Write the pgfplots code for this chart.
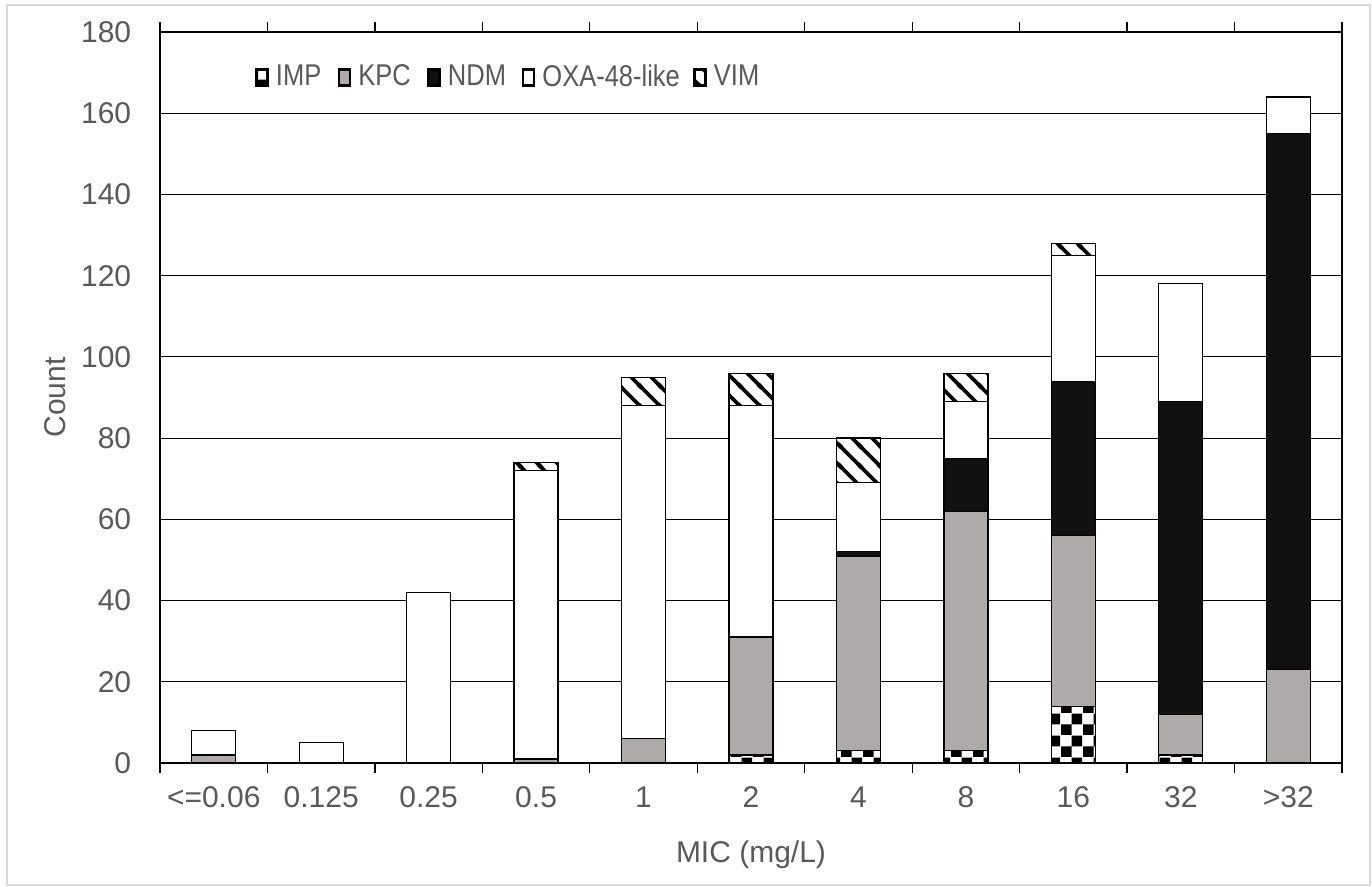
\documentclass[border=0pt]{standalone}
\usepackage{fontspec}
\setmainfont{Liberation Sans}
\newfontfamily\legfont[FakeStretch=0.85]{Liberation Sans}
\usepackage{pgfplots}
\usepackage{pgfplotstable}
\pgfplotsset{compat=1.18}
\usetikzlibrary{patterns}
\definecolor{txtgray}{HTML}{595959}
\definecolor{kpcgray}{HTML}{AEAAAA}
\definecolor{ndmblack}{HTML}{111111}
\definecolor{framegray}{HTML}{D9D9D9}

% checkerboard for IMP
\pgfdeclarepatternformonly{impchecker}{\pgfpointorigin}{\pgfqpoint{8.6pt}{8.6pt}}{\pgfqpoint{8.6pt}{8.6pt}}{%
  \pgfpathrectangle{\pgfpointorigin}{\pgfqpoint{4.3pt}{4.3pt}}%
  \pgfpathrectangle{\pgfqpoint{4.3pt}{4.3pt}}{\pgfqpoint{4.3pt}{4.3pt}}%
  \pgfusepath{fill}}
% wide downward diagonal for VIM
\pgfdeclarepatternformonly{vimlines}{\pgfqpoint{-1pt}{-1pt}}{\pgfqpoint{9pt}{9pt}}{\pgfqpoint{8pt}{8pt}}{%
  \pgfsetlinewidth{1.5pt}%
  \pgfpathmoveto{\pgfqpoint{-1pt}{9pt}}\pgfpathlineto{\pgfqpoint{9pt}{-1pt}}%
  \pgfpathmoveto{\pgfqpoint{-1pt}{1pt}}\pgfpathlineto{\pgfqpoint{1pt}{-1pt}}%
  \pgfpathmoveto{\pgfqpoint{7pt}{9pt}}\pgfpathlineto{\pgfqpoint{9pt}{7pt}}%
  \pgfusepath{stroke}}

\pgfplotstableread{
x IMP KPC NDM OXA VIM
0 0 2 0 6 0
1 0 0 0 5 0
2 0 0 0 42 0
3 0 1 0 71 2
4 0 6 0 82 7
5 2 29 0 57 8
6 3 48 1 17 11
7 3 59 13 14 7
8 14 42 38 31 3
9 2 10 77 29 0
10 0 23 132 9 0
}\micdata

\begin{document}
\begin{tikzpicture}
\useasboundingbox (-64pt,-49.2pt) rectangle (484.8pt,305.2pt);
\draw[framegray, line width=0.8pt] (-61.2pt,-48.6pt) rectangle (484pt,303.2pt);
\begin{axis}[
    at={(0,0)}, anchor=south west,
    scale only axis,
    width=472.8pt, height=292.4pt,
    ybar stacked,
    bar width=0.41,
    xmin=-0.5, xmax=10.5,
    ymin=0, ymax=180,
    ytick={0,20,...,180},
    xtick={0,...,10},
    xticklabels={{<=0.06},0.125,0.25,0.5,1,2,4,8,16,32,{>32}},
    minor xtick={-0.5,0.5,...,10.5},
    tick align=outside,
    major tick length=0pt,
    minor tick length=4pt,
    minor tick style={black, line width=0.5pt},
    major tick style={draw=none},
    ymajorgrids,
    grid style={black, line width=0.45pt},
    axis line style={black, line width=0.6pt},
    /pgf/number format/assume math mode=true,
    tick label style={font=\fontsize{12}{14}\selectfont, text=txtgray},
    yticklabel style={xshift=-8pt},
    xticklabel style={yshift=-6pt},
    xlabel={MIC (mg/L)},
    ylabel={Count},
    every axis x label/.style={at={(axis description cs:0.5,-0.1259)}, anchor=center,
        font=\fontsize{12}{14}\selectfont, text=txtgray},
    every axis y label/.style={at={(axis description cs:-0.0888,0.5)}, rotate=90, anchor=center,
        font=\fontsize{12}{14}\selectfont, text=txtgray},
    legend columns=-1,
    legend style={draw=none, fill=none, font=\legfont\fontsize{12}{14}\selectfont, text=txtgray,
        at={(axis description cs:0.074,0.938)}, anchor=west,
        nodes={inner xsep=0pt, inner ysep=2pt},
        /tikz/every even column/.append style={column sep=0pt},
        /tikz/every odd column/.append style={column sep=2.8pt}},
    legend image code/.code={\draw[#1, line width=1pt] (0pt,-3.2pt) rectangle (4.4pt,3.2pt);},
    every axis plot/.append style={draw=black, line width=0.5pt},
]
\addplot[fill=white, postaction={pattern=impchecker}] table[x=x, y=IMP] {\micdata};
\addplot[fill=kpcgray] table[x=x, y=KPC] {\micdata};
\addplot[fill=ndmblack] table[x=x, y=NDM] {\micdata};
\addplot[fill=white] table[x=x, y=OXA] {\micdata};
\addplot[fill=white, postaction={pattern=vimlines}] table[x=x, y=VIM] {\micdata};
\legend{\makebox[24.8pt][l]{IMP},\makebox[27.6pt][l]{KPC},\makebox[29.6pt][l]{NDM},\makebox[60.4pt][l]{OXA-48-like},\makebox[24pt][l]{VIM}}
\end{axis}
\end{tikzpicture}
\end{document}
